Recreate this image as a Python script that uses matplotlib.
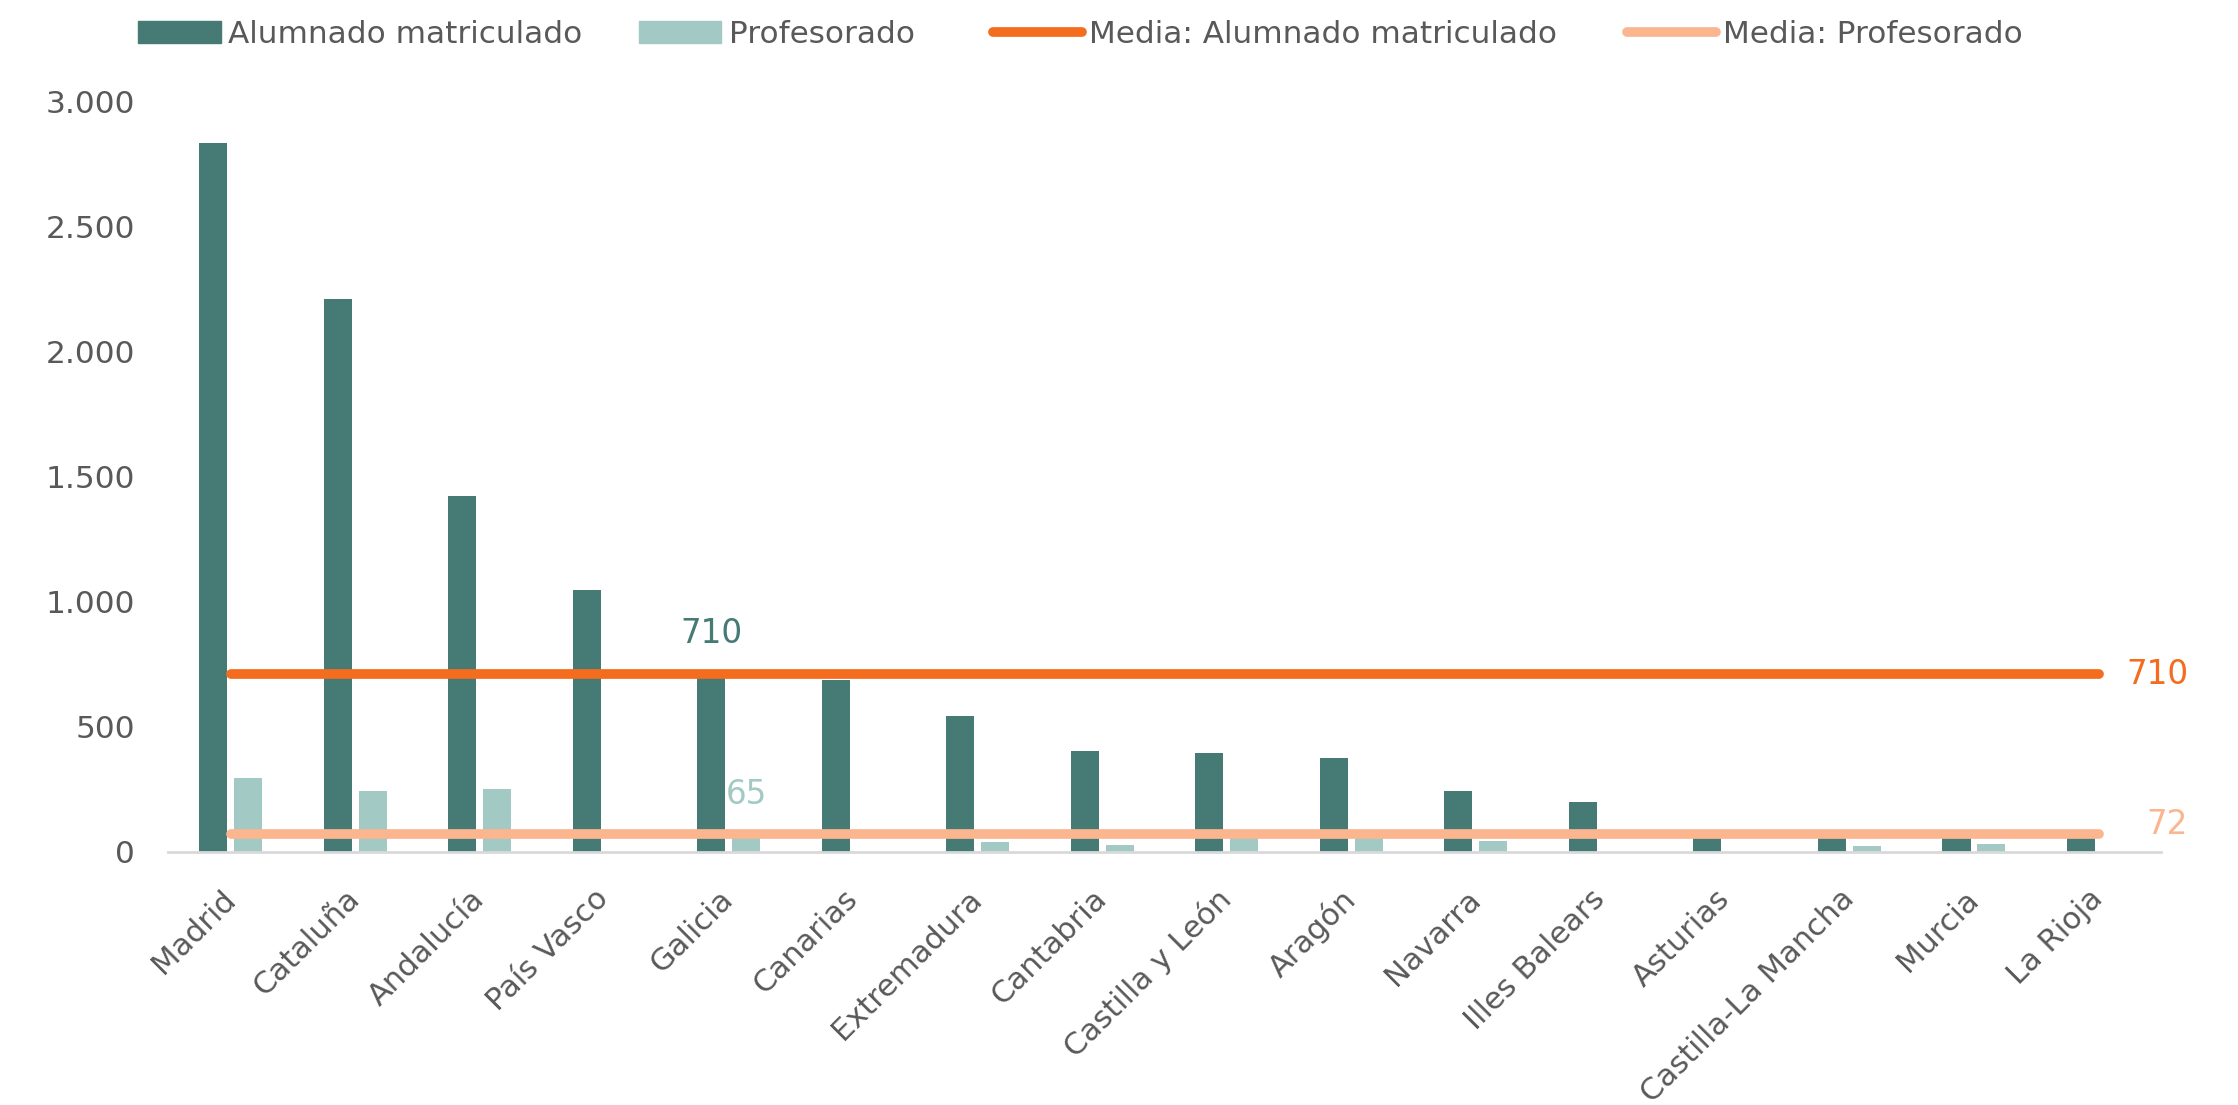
import matplotlib
matplotlib.use("Agg")
import matplotlib.pyplot as plt
from matplotlib.patches import Patch
from matplotlib.lines import Line2D
import numpy as np

plt.rcParams['font.family'] = ['DejaVu Sans']

regiones = ["Madrid", "Cataluña", "Andalucía", "País Vasco", "Galicia", "Canarias",
            "Extremadura", "Cantabria", "Castilla y León", "Aragón", "Navarra",
            "Illes Balears", "Asturias", "Castilla-La Mancha", "Murcia", "La Rioja"]
alumnado = [2833, 2211, 1423, 1046, 710, 686, 542, 403, 393, 373, 243, 199, 62, 68, 70, 60]
profesorado = [293, 242, 249, 0, 65, 0, 37, 26, 70, 74, 42, 0, 0, 22, 30, 0]
media_alumnado = 710
media_profesorado = 72
yticks = [0, 500, 1000, 1500, 2000, 2500, 3000]
ytick_labels = ["0", "500", "1.000", "1.500", "2.000", "2.500", "3.000"]

c_dark = "#467A74"
c_pale = "#A3C9C5"
c_orange = "#F46C1E"
c_peach = "#FBB690"
c_text = "#595959"

fig = plt.figure(figsize=(22.38, 11.05), dpi=100)
ax = fig.add_axes([0.0752, 0.2294, 0.8903, 0.6786])

x = np.arange(len(regiones))
w = 0.225
off = 0.1405
ax.bar(x - off, alumnado, width=w, color=c_dark, zorder=2)
ax.bar(x + off, profesorado, width=w, color=c_pale, zorder=2)
ax.plot(x, [media_alumnado] * len(x), color=c_orange, lw=7, solid_capstyle='round', zorder=3)
ax.plot(x, [media_profesorado] * len(x), color=c_peach, lw=7, solid_capstyle='round', zorder=3)

ax.set_xlim(-0.5, len(regiones) - 0.5)
ax.set_ylim(0, 3000)
ax.set_yticks(yticks)
ax.set_yticklabels(ytick_labels, fontsize=22.5, color=c_text)
ax.tick_params(axis='y', length=0, pad=24)
ax.set_xticks(x)
ax.set_xticklabels(regiones, fontsize=22, color=c_text, rotation=45, ha='right',
                   va='center', rotation_mode='anchor')
ax.tick_params(axis='x', length=0, pad=31)
for s in ['top', 'right', 'left']:
    ax.spines[s].set_visible(False)
ax.spines['bottom'].set_color('#D9D9D9')
ax.spines['bottom'].set_linewidth(2)

# data labels for Galicia
gi = regiones.index("Galicia")
ax.annotate(f"{alumnado[gi]}", (x[gi] - off, alumnado[gi]), xytext=(0, 29),
            textcoords='offset points', ha='center', va='center', fontsize=23.5, color=c_dark)
ax.annotate(f"{profesorado[gi]}", (x[gi] + off, profesorado[gi]), xytext=(0, 29),
            textcoords='offset points', ha='center', va='center', fontsize=23.5, color=c_pale)
# mean labels
ax.annotate(f"{media_alumnado}", (x[-1], media_alumnado), xytext=(65, 0),
            textcoords='offset points', ha='right', va='center', fontsize=23.5, color=c_orange,
            annotation_clip=False)
ax.annotate(f"{media_profesorado}", (x[-1], media_profesorado), xytext=(64, 6.5),
            textcoords='offset points', ha='right', va='center', fontsize=23.5, color=c_peach,
            annotation_clip=False)

handles = [Patch(color=c_dark), Patch(color=c_pale),
           Line2D([], [], color=c_orange, lw=7, solid_capstyle='round'),
           Line2D([], [], color=c_peach, lw=7, solid_capstyle='round')]
labels = ["Alumnado matriculado", "Profesorado", "Media: Alumnado matriculado", "Media: Profesorado"]
lefts = [0.0617, 0.2855, 0.4437, 0.7270]
hlens = [2.65, 2.65, 2.85, 2.85]
for h, lab, lx, hl in zip(handles, labels, lefts, hlens):
    leg = fig.legend([h], [lab], loc='center left', bbox_to_anchor=(lx, 0.969),
                     frameon=False, fontsize=22.4, handlelength=hl, handleheight=0.75,
                     handletextpad=0.23, borderpad=0, borderaxespad=0)
    for t in leg.get_texts():
        t.set_color(c_text)

fig.savefig("out.png", dpi=100)
